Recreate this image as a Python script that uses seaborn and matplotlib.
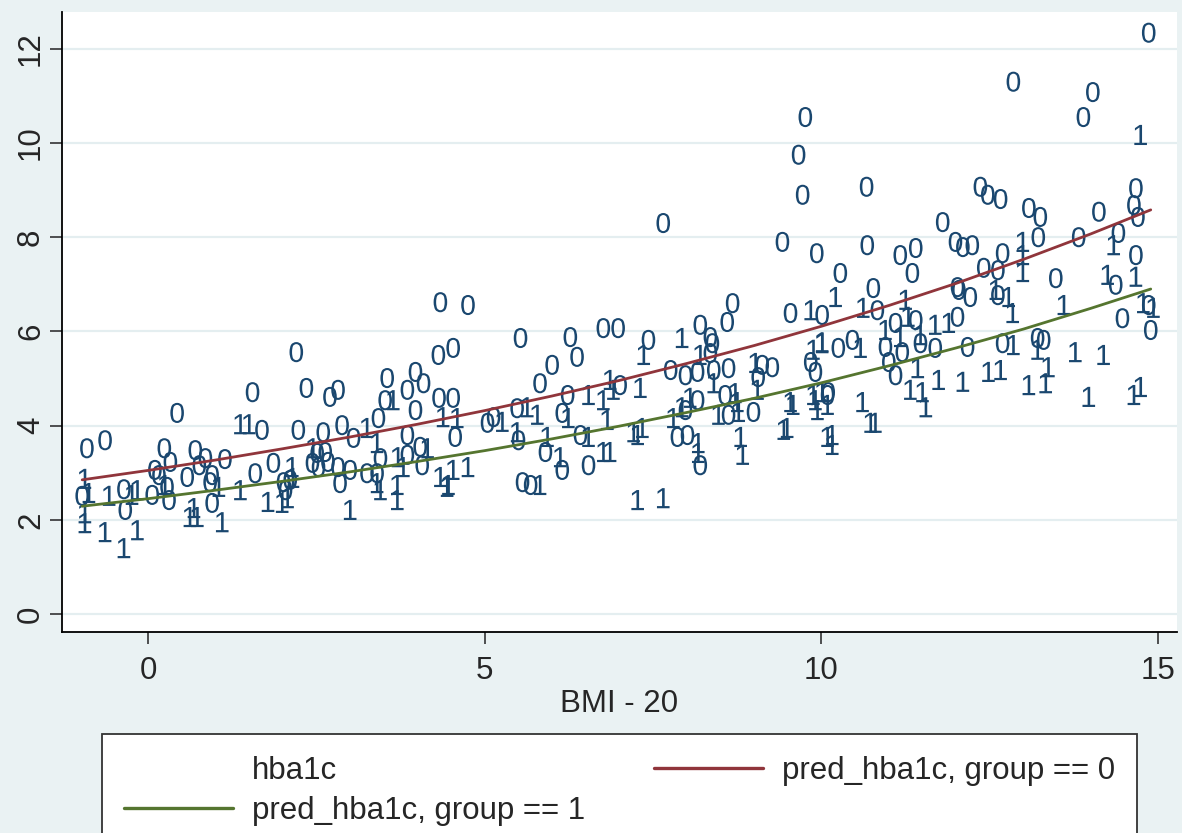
import numpy as np
import pandas as pd
import matplotlib
matplotlib.use("Agg")
import matplotlib.pyplot as plt
import seaborn as sns
from matplotlib.lines import Line2D

# Observed HbA1c against centred BMI (BMI - 20), group 0
bmi_g0 = [-0.91, -0.64, -0.98, -0.36, -0.34, 0.06, 0.10, 0.16, 0.24, 0.33, 0.28, 0.31, 0.43,
          0.58, 0.70, 0.76, 0.85, 0.95, 0.92, 0.95, 1.14, 1.55, 1.59, 1.69, 2.20, 2.35, 2.70,
          2.82, 2.23, 2.60, 2.88, 3.05, 3.42, 3.55, 3.52, 3.85, 3.97, 4.09, 3.97, 4.31, 4.32,
          3.85, 4.04, 2.51, 2.63, 2.44, 2.53, 2.67, 1.86, 2.01, 2.11, 2.04, 2.82, 3.00, 2.85,
          3.25, 3.40, 3.45, 3.85, 4.07, 4.53, 4.34, 4.75, 5.53, 6.27, 6.76, 6.98, 4.53, 6.00,
          6.37, 5.82, 4.56, 5.04, 5.13, 5.48, 6.15, 6.23, 7.01, 5.50, 5.90, 6.42, 6.15, 6.54,
          5.56, 5.68, 8.68, 8.60, 9.54, 10.01, 7.43, 8.20, 8.35, 8.38, 8.35, 7.76, 7.98, 8.16,
          8.40, 8.62, 9.12, 9.27, 9.06, 9.84, 9.91, 8.16, 8.57, 10.09, 7.98, 8.62, 8.99, 7.86,
          8.01, 8.20, 11.80, 10.68, 11.17, 11.40, 11.99, 12.10, 12.24, 12.69, 10.28, 11.35,
          10.77, 12.41, 12.62, 12.02, 12.04, 12.21, 12.62, 10.83, 11.10, 11.40, 12.02, 10.25,
          10.46, 10.95, 11.20, 11.47, 11.69, 12.17, 12.69, 11.00, 11.10, 10.10, 9.76, 9.66,
          9.72, 10.67, 7.65, 9.42, 9.93, 12.36, 12.47, 12.66, 14.67, 13.08, 13.25, 14.12,
          14.64, 14.70, 13.22, 13.82, 14.41, 13.48, 14.37, 14.67, 14.47, 14.86, 14.89, 13.21,
          13.30, 14.86, 12.85, 14.03, 13.89]
hba1c_g0 = [3.52, 3.69, 2.51, 2.65, 2.21, 2.53, 3.06, 2.95, 3.52, 3.23, 2.70, 2.42, 4.27,
            2.91, 3.48, 3.16, 3.31, 2.95, 2.80, 2.36, 3.29, 4.71, 2.99, 3.91, 5.56, 4.80, 4.61,
            4.76, 3.91, 3.86, 4.01, 3.74, 4.16, 5.01, 4.54, 4.76, 5.14, 4.90, 4.33, 5.50, 4.59,
            3.80, 3.55, 3.42, 3.44, 3.21, 3.12, 3.23, 3.21, 2.80, 2.85, 2.63, 3.12, 3.06, 2.78,
            2.99, 2.99, 3.31, 3.38, 3.16, 4.59, 6.62, 6.56, 5.86, 5.88, 6.07, 6.07, 5.65, 5.29,
            5.46, 4.90, 3.76, 4.06, 4.18, 4.37, 4.27, 4.65, 4.86, 3.69, 3.44, 3.80, 3.06, 3.16,
            2.80, 2.74, 6.60, 6.20, 6.39, 6.35, 5.82, 6.14, 5.88, 5.75, 5.54, 5.18, 5.07, 5.14,
            5.18, 5.22, 5.29, 5.24, 5.03, 5.35, 5.14, 4.54, 4.65, 4.65, 4.33, 4.23, 4.29, 3.76,
            3.80, 3.16, 8.32, 7.83, 7.62, 7.77, 7.90, 7.79, 7.83, 7.66, 7.24, 7.24,
            6.92, 7.35, 7.30, 6.94, 6.88, 6.73, 6.77, 6.45, 6.18, 6.24, 6.31, 5.65,
            5.82, 5.67, 5.56, 5.75, 5.65, 5.67, 5.75, 5.35, 5.07, 4.71, 10.55, 9.75,
            8.90, 9.07, 8.30, 7.90, 7.66, 9.07, 8.90, 8.81, 9.04, 8.62, 8.43, 8.54,
            8.68, 8.43, 8.00, 8.00, 8.09, 7.13, 6.99, 7.62, 6.28, 6.56, 6.03, 5.86,
            5.82, 12.34, 11.30, 11.08, 10.55]

# Observed HbA1c against centred BMI, group 1
bmi_g1 = [-0.94, -0.88, -0.94, -0.94, -0.58, -0.24, -0.16, -0.64, -0.36, -0.16, 0.68, 0.62,
          0.73, 1.05, 1.10, 1.37, 0.25, 1.37, 1.50, 3.25, 3.40, 3.64, 2.45, 2.14, 2.15, 3.40,
          3.45, 3.70, 3.70, 3.71, 3.79, 4.15, 1.78, 1.99, 2.07, 3.00, 4.34, 4.46, 4.38, 4.59,
          5.26, 5.63, 5.78, 6.24, 6.54, 6.76, 6.86, 6.91, 6.82, 7.27, 5.48, 5.93, 6.54, 6.12,
          6.76, 6.86, 4.53, 4.75, 4.44, 5.82, 7.27, 9.84, 7.93, 7.36, 8.20, 8.40, 9.02, 9.88,
          10.01, 7.31, 8.05, 8.72, 9.05, 9.54, 9.58, 9.88, 10.01, 7.93, 8.47, 8.77, 8.75, 7.80,
          7.21, 7.34, 8.17, 8.17, 8.80, 8.83, 9.44, 9.49, 7.65, 9.94, 9.91, 10.09, 10.21,
          12.59, 12.78, 10.62, 11.25, 10.95, 11.29, 11.69, 11.89, 12.84, 10.01, 10.58, 11.17,
          11.47, 12.85, 11.43, 11.74, 12.10, 12.48, 12.66, 10.09, 10.61, 11.32, 11.50, 11.55,
          10.73, 10.80, 10.16, 10.16, 12.99, 14.34, 12.99, 12.99, 14.25, 14.67, 13.60, 14.78,
          14.93, 13.21, 13.37, 13.33, 13.08, 13.77, 14.19, 13.97, 14.64, 14.74, 14.74]
hba1c_g1 = [2.87, 2.57, 2.14, 1.93, 2.51, 2.53, 2.63, 1.74, 1.40, 1.78, 2.25, 2.06,
            2.06, 2.70, 1.95, 2.63, 2.74, 4.03, 4.03, 3.95, 3.63, 4.54, 3.52, 3.12, 2.89, 2.78,
            2.63, 2.74, 2.42, 3.33, 3.12, 3.52, 2.38, 2.36, 2.46, 2.21, 2.91, 2.74, 4.18, 4.16,
            4.08, 4.39, 4.23, 4.16, 4.65, 4.54, 4.97, 4.76, 4.12, 3.80, 3.86, 3.76, 3.76, 3.33,
            3.44, 3.44, 3.06, 3.12, 2.70, 2.74, 2.42, 6.45, 5.86, 5.50, 5.50, 4.90, 5.33, 5.61,
            5.75, 4.80, 4.59, 4.69, 4.76, 4.50, 4.44, 4.65, 4.71, 4.39, 4.23, 4.29, 4.50, 4.16,
            3.86, 3.95, 3.63, 3.42, 3.76, 3.38, 3.91, 3.95, 2.46, 4.33, 4.54, 3.76, 6.73,
            6.88, 6.73, 6.50, 6.67, 6.03, 6.31, 6.14, 6.18, 6.39, 5.77, 5.65, 5.88,
            5.92, 5.71, 5.22, 4.97, 4.93, 5.14, 5.18, 4.44, 4.50, 4.76, 4.71, 4.39,
            4.06, 4.06, 3.80, 3.59, 7.90, 7.83, 7.62, 7.26, 7.20, 7.16, 6.56, 6.60,
            6.50, 5.61, 5.24, 4.90, 4.86, 5.56, 5.50, 4.61, 4.65, 4.82, 10.17]

# Model predictions along the BMI range
pred_bmi = [-0.98, 0, 1, 2, 3, 4, 5, 6, 7, 8, 9, 10, 11, 12, 13, 14, 14.89]
pred_hba1c_g0 = [2.85, 3.05, 3.27, 3.51, 3.76, 4.03, 4.32, 4.63, 4.96, 5.32, 5.70, 6.11,
                 6.55, 7.02, 7.53, 8.07, 8.58]
pred_hba1c_g1 = [2.29, 2.45, 2.63, 2.82, 3.02, 3.24, 3.47, 3.72, 3.99, 4.28, 4.58, 4.91,
                 5.27, 5.65, 6.05, 6.49, 6.90]

x_ticks = [0, 5, 10, 15]
y_ticks = [0, 2, 4, 6, 8, 10, 12]
x_label = "BMI - 20"
legend_labels = ["hba1c", "pred_hba1c, group == 0", "pred_hba1c, group == 1"]

BG = "#eaf2f3"
GRID = "#e4eef0"
NAVY = "#1a476f"
MAROON = "#90353b"
FOREST = "#55752f"
FS = 22.5

sns.set_theme(style="white")
plt.rcParams["font.family"] = ["Liberation Sans", "DejaVu Sans"]
plt.rcParams["mathtext.fontset"] = "custom"
plt.rcParams["mathtext.rm"] = "Liberation Sans"
plt.rcParams["mathtext.it"] = "Liberation Sans"

obs = pd.DataFrame({
    "bmi": bmi_g0 + bmi_g1,
    "hba1c": hba1c_g0 + hba1c_g1,
    "group": [0] * len(bmi_g0) + [1] * len(bmi_g1),
})

fig = plt.figure(figsize=(11.82, 8.33), dpi=100, facecolor=BG)
ax = fig.add_axes([62 / 1182, 1 - 632 / 833, (1177 - 62) / 1182, (632 - 12) / 833])
ax.set_facecolor("white")

# Observations labelled by their group number
sns.scatterplot(data=obs, x="bmi", y="hba1c", style="group",
                markers={0: r"$\mathrm{0}$", 1: r"$\mathrm{1}$"},
                color=NAVY, s=210, linewidth=0, legend=False, ax=ax, zorder=3)

sns.lineplot(x=pred_bmi, y=pred_hba1c_g0, color=MAROON, linewidth=2.0, ax=ax, zorder=4)
sns.lineplot(x=pred_bmi, y=pred_hba1c_g1, color=FOREST, linewidth=2.0, ax=ax, zorder=4)

ax.set_xlim(-1.28, 15.28)
ax.set_ylim(-0.38, 12.78)
ax.set_xticks(x_ticks)
ax.set_yticks(y_ticks)
ax.set_yticklabels([str(v) for v in y_ticks], rotation=90, va="center")
ax.tick_params(axis="both", labelsize=FS, length=8.5, width=1.2, color="#333333",
               direction="out", bottom=True, left=True)
ax.tick_params(axis="x", pad=9)
ax.tick_params(axis="y", pad=3)
ax.grid(axis="y", color=GRID, linewidth=1.6)
ax.grid(axis="x", visible=False)
ax.set_axisbelow(True)
for side in ["top", "right"]:
    ax.spines[side].set_visible(False)
for side in ["left", "bottom"]:
    ax.spines[side].set_color("black")
    ax.spines[side].set_linewidth(1.3)
ax.set_xlabel(x_label, fontsize=FS, labelpad=2)
ax.set_ylabel("")

handles = [
    Line2D([], [], linestyle="none", marker=None),
    Line2D([], [], color=FOREST, linewidth=2.4),
    Line2D([], [], color=MAROON, linewidth=2.4),
]
labels = [legend_labels[0], legend_labels[2], legend_labels[1]]
leg = fig.legend(handles, labels, loc="upper left", ncol=2,
                 bbox_to_anchor=(102 / 1182, 1 - 735 / 833, (1137 - 102) / 1182, 0.001),
                 mode="expand", fontsize=FS, frameon=True, fancybox=False,
                 edgecolor="#333333", framealpha=1, handlelength=3.5,
                 handletextpad=0.6, borderpad=0.7, labelspacing=0.33,
                 columnspacing=1.8, borderaxespad=0)
leg.get_frame().set_linewidth(1.3)

fig.savefig("out.png", dpi=100, facecolor=BG)
